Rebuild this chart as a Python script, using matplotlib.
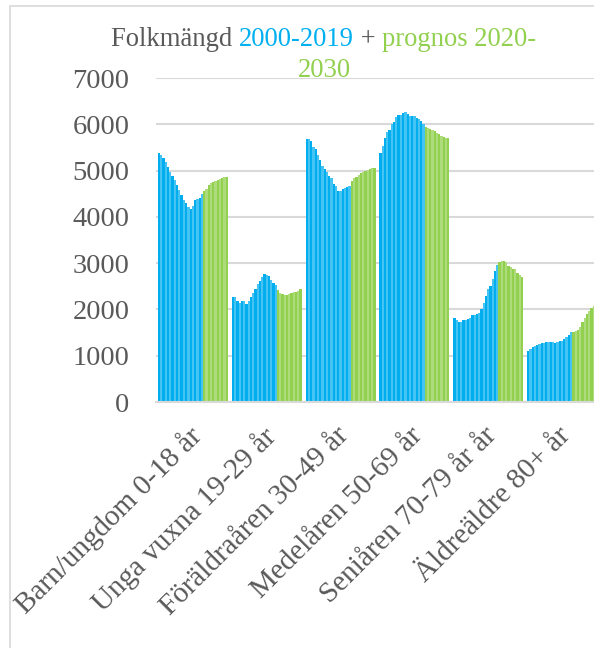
import numpy as np
import matplotlib.pyplot as plt
from matplotlib.patches import Rectangle
from matplotlib.transforms import ScaledTranslation

# data (population per age group, 2000-2030)
years = list(range(2000, 2031))
n_hist = 20   # 2000-2019 observed, 2020-2030 forecast
categories = ['Barn/ungdom 0-18 år', 'Unga vuxna 19-29 år', 'Föräldraåren 30-49 år',
              'Medelåren 50-69 år', 'Seniåren 70-79 år år', 'Äldreäldre 80+ år']

barn = [5390, 5346, 5281, 5187, 5079, 4971, 4885, 4792, 4698, 4576, 4468, 4374, 4302, 4216, 4166,
        4231, 4360, 4380, 4400, 4490, 4554, 4612, 4683, 4734, 4756, 4777, 4806, 4828, 4842, 4857, 4857]
unga = [2264, 2264, 2192, 2149, 2192, 2178, 2120, 2192, 2264, 2350, 2451, 2544, 2616, 2710, 2760,
        2738, 2724, 2638, 2566, 2523, 2422, 2365, 2329, 2314, 2314, 2336, 2350, 2372, 2379, 2408, 2444]
foraldra = [5692, 5685, 5649, 5520, 5469, 5347, 5225, 5096, 5031, 4966, 4887, 4830, 4707, 4664, 4564,
            4564, 4607, 4621, 4643, 4664, 4765, 4830, 4866, 4901, 4937, 4959, 4981, 5009, 5031, 5045, 5045]
medel = [5383, 5541, 5699, 5836, 5886, 6015, 6051, 6159, 6195, 6210, 6253, 6267, 6231, 6174, 6174,
         6174, 6145, 6116, 6066, 6001, 5944, 5922, 5893, 5872, 5850, 5814, 5785, 5742, 5721, 5706, 5699]
senior = [1811, 1761, 1739, 1739, 1775, 1782, 1797, 1825, 1869, 1883, 1905, 1926, 2005, 2142, 2293,
          2436, 2515, 2652, 2824, 2954, 3019, 3047, 3047, 3019, 2939, 2911, 2882, 2868, 2781, 2738, 2710]
aldre = [1101, 1144, 1180, 1209, 1237, 1252, 1266, 1281, 1295, 1302, 1302, 1302, 1281, 1295, 1309,
         1317, 1353, 1396, 1439, 1518, 1518, 1525, 1554, 1626, 1734, 1820, 1892, 1971, 2022, 2079, 2140]

groups = [barn, unga, foraldra, medel, senior, aldre]
yticks = [0, 1000, 2000, 3000, 4000, 5000, 6000, 7000]

# colours
blue = ['#00AEEF', '#45C4F4']
green = ['#92D050', '#AEDC7C']
grey = '#595959'
gridc = '#D9D9D9'
serif = 'Liberation Serif'

W, H = 594, 648
fig = plt.figure(figsize=(W / 100, H / 100), dpi=100)

# axes: plot area runs slightly past the right edge like the cropped reference
left, right, top, bottom = 156, 599, 78, 402
ax = fig.add_axes([left / W, 1 - bottom / H, (right - left) / W, (bottom - top) / H])

nyear = len(years)
group_w = 0.948
bw = group_w / nyear
xc = np.arange(len(categories))
for j in range(nyear):
    heights = [g[j] for g in groups]
    col = blue[j % 2] if j < n_hist else green[j % 2]
    ax.bar(xc - group_w / 2 + (j + 0.5) * bw, heights, width=bw, color=col, linewidth=0, zorder=2)

ax.set_xlim(-0.5, len(categories) - 0.5)
ax.set_ylim(0, 7000)
ax.set_yticks(yticks)
ax.set_yticklabels([str(t) for t in yticks], fontsize=20.5, family=serif, color=grey)
ax.yaxis.grid(True, color=gridc, linewidth=1.5, zorder=0)
ax.set_axisbelow(True)
for s in ['top', 'right', 'left']:
    ax.spines[s].set_visible(False)
ax.spines['bottom'].set_color(gridc)
ax.spines['bottom'].set_linewidth(1.5)
ax.tick_params(axis='y', length=0, pad=19)
ax.tick_params(axis='x', length=0, pad=6)
ax.set_xticks(xc)
ax.set_xticklabels(categories, rotation=45, ha='right', va='top', rotation_mode='anchor',
                   fontsize=21, family=serif, color=grey)
shift = ScaledTranslation(-5 / 100, -12 / 100, fig.dpi_scale_trans)
for lab in ax.get_xticklabels():
    lab.set_transform(lab.get_transform() + shift)

# chart frame (cropped on the right and bottom)
fig.patches.append(Rectangle((10 / W, -0.1), 2, 1 - 6 / H + 0.1, transform=fig.transFigure,
                             fill=False, edgecolor=gridc, linewidth=1.2))

# multicoloured title
pieces = [('Folkmängd ', grey), ('2000-2019', '#00B0F0'), (' + ', grey), ('prognos 2020-', '#92D050')]
tsize = 19.2
renderer = fig.canvas.get_renderer()


def text_width(s):
    t = fig.text(0, 0, s + '|', fontsize=tsize, family=serif)
    w1 = t.get_window_extent(renderer).width
    t.remove()
    t = fig.text(0, 0, '|', fontsize=tsize, family=serif)
    w2 = t.get_window_extent(renderer).width
    t.remove()
    return w1 - w2


cx = 324
full = ''.join(p[0] for p in pieces)
x0 = cx - text_width(full) / 2
prefix = ''
for s, c in pieces:
    xp = x0 + text_width(prefix)
    fig.text(xp / W, 1 - 46 / H, s, fontsize=tsize, family=serif, color=c, va='baseline', ha='left')
    prefix += s
fig.text(cx / W, 1 - 77 / H, '2030', fontsize=tsize, family=serif, color='#92D050',
         va='baseline', ha='center')

fig.savefig('out.png', dpi=100)
